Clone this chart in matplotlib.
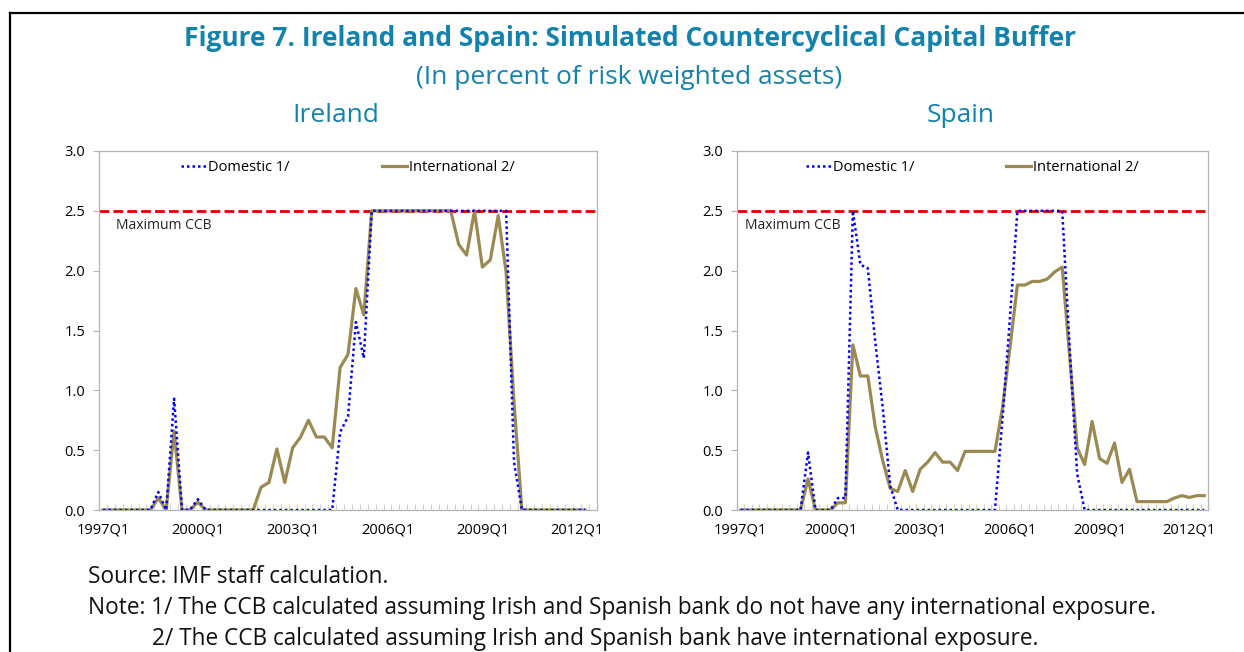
import numpy as np
import matplotlib
matplotlib.use("Agg")
from matplotlib import pyplot as plt
from matplotlib.lines import Line2D

plt.rcParams['font.family'] = ['Open Sans', 'DejaVu Sans']

#-------------------------------------------------------------
# quarters 1997Q1 .. 2012Q3 (63 categories)
quarters = [f"{y}Q{q}" for y in range(1997, 2013) for q in range(1, 5)][:63]
tick_labels = ["1997Q1", "2000Q1", "2003Q1", "2006Q1", "2009Q1", "2012Q1"]
yticks = [0.0, 0.5, 1.0, 1.5, 2.0, 2.5, 3.0]
max_ccb = 2.5

ireland_dom = [0, 0, 0, 0, 0, 0, 0, 0.15, 0, 0.93, 0, 0, 0.09,
               0, 0, 0, 0, 0, 0, 0, 0, 0, 0, 0, 0, 0, 0, 0, 0, 0,
               0.65, 0.78, 1.57, 1.27,
               2.5, 2.5, 2.5, 2.5, 2.5, 2.5, 2.5, 2.5, 2.5, 2.5, 2.5, 2.5, 2.5, 2.5, 2.5, 2.5, 2.5, 2.5,
               0.4, 0, 0, 0, 0, 0, 0, 0, 0, 0]
ireland_int = [0, 0, 0, 0, 0, 0, 0, 0.10, 0, 0.66, 0, 0, 0.065,
               0, 0, 0, 0, 0, 0, 0,
               0.19, 0.23, 0.51, 0.23, 0.52, 0.61, 0.75, 0.61, 0.61, 0.52, 1.19, 1.30, 1.85, 1.63,
               2.5, 2.5, 2.5, 2.5, 2.5, 2.5, 2.5, 2.5, 2.5, 2.5, 2.5,
               2.22, 2.13, 2.5, 2.03, 2.09, 2.46, 1.99, 0.9,
               0, 0, 0, 0, 0, 0, 0, 0, 0]

spain_dom = [0, 0, 0, 0, 0, 0, 0, 0, 0, 0.48, 0, 0, 0, 0.1, 0.1,
             2.5, 2.05, 2.02, 1.4, 0.85, 0.2,
             0, 0, 0, 0, 0, 0, 0, 0, 0, 0, 0, 0, 0, 0,
             0.75, 1.6, 2.5, 2.5, 2.5, 2.5, 2.5, 2.5, 2.5, 1.35, 0.3,
             0, 0, 0, 0, 0, 0, 0, 0, 0, 0, 0, 0, 0, 0, 0, 0, 0]
spain_int = [0, 0, 0, 0, 0, 0, 0, 0, 0, 0.26, 0, 0, 0, 0.06, 0.06,
             1.38, 1.12, 1.12, 0.69, 0.41, 0.18, 0.155, 0.33, 0.155, 0.34, 0.40, 0.48, 0.40, 0.40, 0.33,
             0.49, 0.49, 0.49, 0.49, 0.49,
             0.85, 1.35, 1.88, 1.88, 1.91, 1.91, 1.93, 1.99, 2.03, 1.28,
             0.52, 0.38, 0.74, 0.43, 0.39, 0.56, 0.23, 0.34,
             0.07, 0.07, 0.07, 0.07, 0.07, 0.10, 0.12, 0.105, 0.12, 0.12]

#-------------------------------------------------------------
teal = '#1382ad'
olive = '#9a8a52'
grey = '#b4b4b4'

W, H = 1244, 652
fig = plt.figure(figsize=(W/100, H/100), dpi=100)

def panel(rect, title, dom, intl, label_x):
    ax = fig.add_axes(rect)
    ax.axhline(max_ccb, color='#e00000', lw=2.0, ls=(0, (3.5, 1.5)), zorder=1)
    l1, = ax.plot(range(len(dom)), dom, color='#0000ff', lw=1.8, ls=(0, (1, 1.2)), zorder=3)
    l2, = ax.plot(range(len(intl)), intl, color=olive, lw=2.3, zorder=2)
    ax.text(label_x, 2.44, "Maximum CCB", fontsize=10, va='top', ha='left', color='#222222')
    ax.set_xlim(-0.5, 62.5)
    ax.set_ylim(0, 3.0)
    ax.set_yticks(yticks)
    ax.set_yticklabels([f"{v:.1f}" for v in yticks])
    ax.set_xticks([quarters.index(t) for t in tick_labels])
    ax.set_xticklabels(tick_labels)
    ax.set_xticks(np.arange(-0.5, 63, 1), minor=True)
    ax.tick_params(axis='x', which='major', length=0, labelsize=10.5, pad=9)
    ax.tick_params(axis='x', which='minor', direction='in', length=4, color='#cfcfcf', width=0.8)
    ax.tick_params(axis='y', which='major', direction='out', length=4, color=grey, labelsize=10.5, pad=6)
    for s in ax.spines.values():
        s.set_color(grey)
        s.set_linewidth(0.9)
    ax.legend([l1, l2], ["Domestic 1/", "International 2/"], loc='upper center',
              bbox_to_anchor=(0.5, 1.0), ncol=2, frameon=False, fontsize=10.5,
              handlelength=1.7, handletextpad=0.15, columnspacing=6.3, borderaxespad=0.25)
    x0, y0, w, h = rect
    fig.text(x0 + w/2 - 12/W, 1 - 115/H, title, fontsize=19, color=teal, ha='center', va='center')
    return ax

panel([99/W, 1 - 510/H, 498/W, 359/H], "Ireland", ireland_dom, ireland_int, 1.65)
panel([737/W, 1 - 510/H, 471/W, 359/H], "Spain", spain_dom, spain_int, 0.6)

#-------------------------------------------------------------
fig.text(630/W, 1 - 38/H, "Figure 7. Ireland and Spain: Simulated Countercyclical Capital Buffer",
         fontsize=19, fontweight='bold', color=teal, ha='center', va='center')
fig.text(629/W, 1 - 77/H, "(In percent of risk weighted assets)",
         fontsize=19, color=teal, ha='center', va='center')

fig.text(88/W, 1 - 577/H, "Source: IMF staff calculation.", fontsize=16.3, va='center', color='#111111')
fig.text(88/W, 1 - 608/H, "Note: 1/ The CCB calculated assuming Irish and Spanish bank do not have any international exposure.",
         fontsize=16.3, va='center', color='#111111')
fig.text(152/W, 1 - 651/H, "2/ The CCB calculated assuming Irish and Spanish bank have international exposure.",
         fontsize=16.3, va='bottom', color='#111111')

# frame
fig.add_artist(Line2D([10/W, 10/W], [0, 1 - 13/H], color='black', lw=1.6))
fig.add_artist(Line2D([10/W, 1], [1 - 13/H, 1 - 13/H], color='black', lw=1.6))

fig.savefig("out.png", dpi=100)
